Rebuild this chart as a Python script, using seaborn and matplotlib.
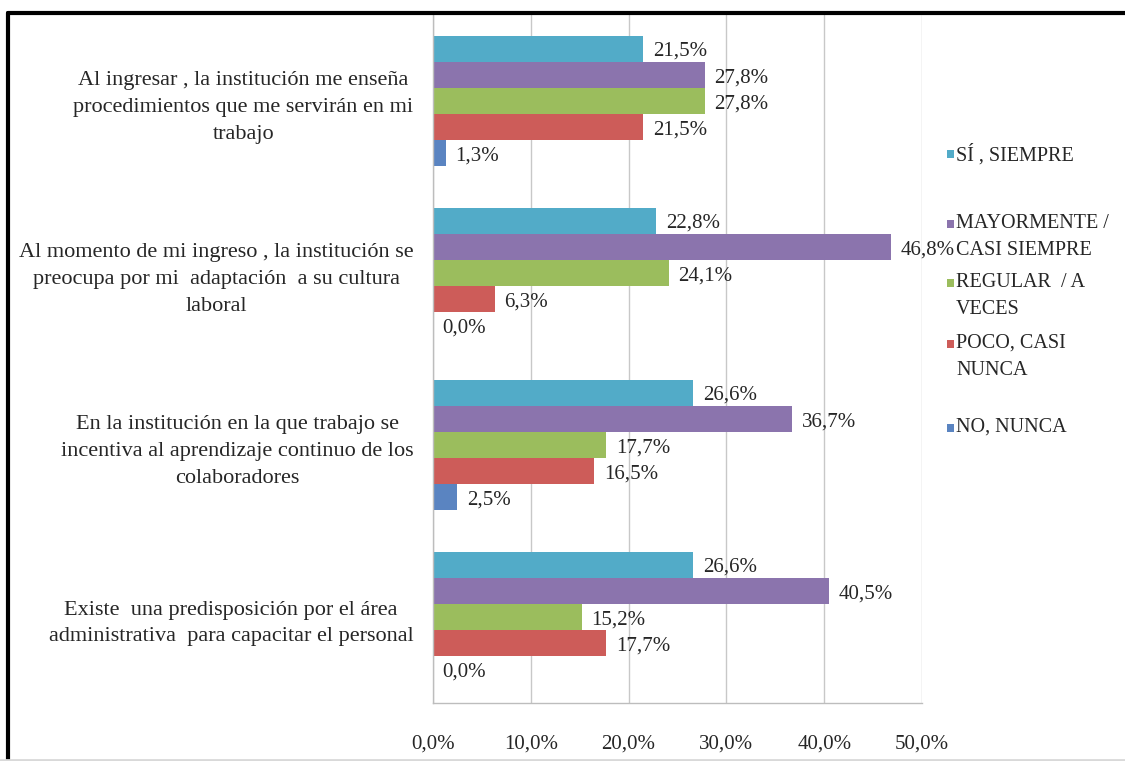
import matplotlib
matplotlib.use("Agg")
import matplotlib.pyplot as plt
from matplotlib.lines import Line2D
from matplotlib.patches import Rectangle
import seaborn as sns
import pandas as pd

# Survey items (y categories)
preguntas = [
    "Al ingresar , la institución me enseña\nprocedimientos que me servirán en mi\ntrabajo",
    "Al momento de mi ingreso , la institución se\npreocupa por mi  adaptación  a su cultura\nlaboral",
    "En la institución en la que trabajo se\nincentiva al aprendizaje continuo de los\ncolaboradores",
    "Existe  una predisposición por el área\nadministrativa  para capacitar el personal",
]

# Answer options (series)
respuestas = ["SÍ , SIEMPRE", "MAYORMENTE /\nCASI SIEMPRE", "REGULAR  / A\nVECES",
              "POCO, CASI\nNUNCA", "NO, NUNCA"]

# Percentages per answer option, one value per survey item
si_siempre = [21.5, 22.8, 26.6, 26.6]
mayormente = [27.8, 46.8, 36.7, 40.5]
regular = [27.8, 24.1, 17.7, 15.2]
poco = [21.5, 6.3, 16.5, 17.7]
nunca = [1.3, 0.0, 2.5, 0.0]

x_ticks = [0, 10, 20, 30, 40, 50]

colores = ["#52ABC8", "#8B74AD", "#9BBD5D", "#CD5C59", "#5A84C1"]

series = [si_siempre, mayormente, regular, poco, nunca]
rows = []
for resp, vals in zip(respuestas, series):
    for preg, v in zip(preguntas, vals):
        rows.append({"pregunta": preg, "respuesta": resp, "pct": v})
df = pd.DataFrame(rows)

sns.set_theme(style="white")
plt.rcParams["font.family"] = ["Liberation Serif", "DejaVu Serif"]
txt_color = "#262626"

W, H = 1125, 761
fig = plt.figure(figsize=(W / 100, H / 100), dpi=100)
ax = fig.add_axes([433 / W, 1 - 703 / H, (922 - 433) / W, (703 - 15) / H])

sns.barplot(data=df, x="pct", y="pregunta", hue="respuesta", order=preguntas,
            hue_order=respuestas, palette=colores, orient="h", width=0.76,
            saturation=1, linewidth=0, ax=ax, legend=False)

for cont in ax.containers:
    vals = [b.get_width() for b in cont]
    texts = ax.bar_label(cont, labels=[f"{v:.1f}%".replace(".", ",") for v in vals],
                         padding=7, fontsize=15, color=txt_color)
    for t in texts:
        t.xyann = (7, -2)

ax.set_xlim(0, 50)
ax.set_xticks(x_ticks)
ax.set_xticklabels([f"{t:.1f}%".replace(".", ",") for t in x_ticks],
                   fontsize=15, color=txt_color)
ax.set_xlabel("")
ax.set_ylabel("")
ax.tick_params(axis="x", length=4, color="#bdbdbd", pad=19)
ax.tick_params(axis="y", length=0, pad=14)
for lab in ax.get_yticklabels():
    lab.set_fontsize(16)
    lab.set_color(txt_color)
    lab.set_multialignment("center")
    lab.set_linespacing(1.55)

ax.grid(axis="x", color="#c8c8c8", linewidth=1)
ax.set_axisbelow(True)
for side in ["top", "right"]:
    ax.spines[side].set_visible(False)
for side in ["left", "bottom"]:
    ax.spines[side].set_color("#bdbdbd")
    ax.spines[side].set_linewidth(1)

# Legend drawn to the right of the plot
leg_y = [154, 224, 283, 344, 428]
for resp, col, y in zip(respuestas, colores, leg_y):
    fig.add_artist(Rectangle((947 / W, 1 - (y + 4) / H), 7 / W, 8 / H,
                             transform=fig.transFigure, color=col, lw=0))
    fig.text(956 / W, 1 - (y - 10) / H, resp, fontsize=14.5, color=txt_color,
             va="top", ha="left", linespacing=1.55)

# Frame lines
fig.add_artist(Line2D([8 / W, 1], [1 - 13 / H, 1 - 13 / H], color="black",
                      lw=3, transform=fig.transFigure))
fig.add_artist(Line2D([8 / W, 8 / W], [0, 1 - 13 / H], color="black",
                      lw=3, transform=fig.transFigure))
fig.add_artist(Line2D([0, 1], [1.5 / H, 1.5 / H], color="#d9d9d9",
                      lw=2, transform=fig.transFigure))

fig.savefig("out.png", dpi=100)
